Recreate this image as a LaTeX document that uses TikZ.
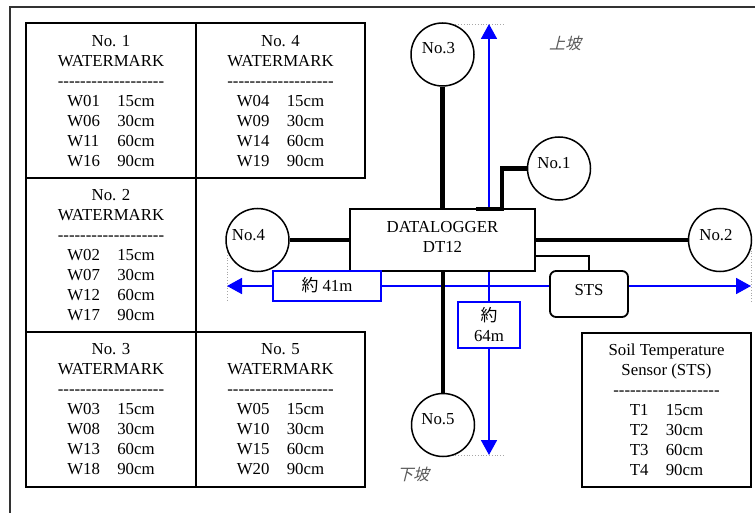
\documentclass[tikz,border=0pt]{standalone}
\usepackage{fontspec}
\setmainfont{Liberation Serif}
\newfontfamily\cjk{Noto Sans CJK JP}
\newfontfamily\cjkit[FakeSlant=0.25]{Noto Sans CJK JP}
\usetikzlibrary{arrows.meta}
\definecolor{pureblue}{RGB}{0,0,255}
\newcommand\dashrow{-{}-{}-{}-{}-{}-{}-{}-{}-{}-{}-{}-{}-{}-{}-{}-{}-{}-{}-{}}
\newcommand\wrow[2]{\makebox[50pt][l]{#1}#2}
\newcommand\trow[2]{\makebox[36pt][l]{#1}#2}
\newcommand\wmtext[5]{No. #1\\WATERMARK\\\dashrow\\\wrow{#2}{15cm}\\\wrow{#3}{30cm}\\\wrow{#4}{60cm}\\\wrow{#5}{90cm}}
\begin{document}
\begin{tikzpicture}[x=1pt,y=-1pt,
  every node/.style={font=\fontsize{16.8}{20}\selectfont, inner sep=0pt},
  cell/.style={draw, line width=1.3pt},
  sensor/.style={circle, draw, line width=1.5pt, minimum size=63pt, fill=white},
  cable/.style={line width=4.5pt},
  thincable/.style={line width=1.5pt},
  dim/.style={draw=pureblue, line width=1.8pt, -{Triangle[width=16pt,length=15pt]}},
  dimbox/.style={draw=pureblue, line width=2pt, fill=white},
  guide/.style={draw=gray!70, line width=0.8pt, dotted},
  slope/.style={font=\fontsize{16}{20}\selectfont\cjkit, text=black!65}]
\useasboundingbox (0,0) rectangle (755,513);
\fill[white] (0,0) rectangle (755,513);
% outer frame
\draw[line width=2pt, black!80] (10,513) -- (10,7.5) -- (755,7.5);
% watermark table
\draw[cell] (26,23) rectangle (196,178);
\draw[cell] (196,23) rectangle (365,178);
\draw[cell] (26,178) rectangle (196,332);
\draw[cell] (26,332) rectangle (196,487);
\draw[cell] (196,332) rectangle (365,487);
\node[align=center] (wm1) at (111,101) {\wmtext{1}{W01}{W06}{W11}{W16}};
\node[align=center] (wm4) at (280.5,101) {\wmtext{4}{W04}{W09}{W14}{W19}};
\node[align=center] (wm2) at (111,255) {\wmtext{2}{W02}{W07}{W12}{W17}};
\node[align=center] (wm3) at (111,409) {\wmtext{3}{W03}{W08}{W13}{W18}};
\node[align=center] (wm5) at (280.5,409) {\wmtext{5}{W05}{W10}{W15}{W20}};
% soil temperature sensor table
\draw[cell] (582,333) rectangle (751,487);
\node[align=center] (stt) at (666.5,410) {Soil Temperature\\Sensor (STS)\\\dashrow\\\trow{T1}{15cm}\\\trow{T2}{30cm}\\\trow{T3}{60cm}\\\trow{T4}{90cm}};
% guides
\coordinate (up) at (489,24);
\coordinate (down) at (489,455);
\coordinate (lft) at (227,286);
\coordinate (rgt) at (751,286);
\draw[guide] (447,24) -- (505,24);
\draw[guide] (447,455.5) -- (505,455.5);
\draw[guide] (227,238) -- (227,302);
\draw[guide] (751,245) -- (751,302);
% dimension arrows
\draw[dim, {Triangle[width=16pt,length=15pt]}-{Triangle[width=16pt,length=15pt]}] (down) -- (up);
\draw[dim, {Triangle[width=16pt,length=15pt]}-{Triangle[width=16pt,length=15pt]}] (lft) -- (rgt);
% datalogger and boxes
\node[draw, line width=2pt, fill=white, minimum width=185pt, minimum height=62pt] (dl) at (442.5,240) {};
\node[align=center] (dltext) at (442.5,237) {DATALOGGER\\DT12};
\node[draw, line width=1.8pt, fill=white, rounded corners=6pt, minimum width=78pt, minimum height=46pt] (sts) at (589,294) {};
\node (ststext) at (589,290) {STS};
\node[dimbox, minimum width=108pt, minimum height=30pt] (d41) at (327,286) {};
\node (d41t) at (327,285) {{\cjk 約}\ 41m};
\node[dimbox, minimum width=62pt, minimum height=46pt] (d64) at (489,325) {};
\node[align=center] (d64t) at (489,325) {{\cjk 約}\\64m};
% sensors
\node[sensor] (n3) at (442.5,54.5) {};
\node[sensor] (n1) at (559,168.5) {};
\node[sensor] (n2) at (720,240) {};
\node[sensor] (n4) at (257.5,240) {};
\node[sensor] (n5) at (443,425) {};
\node at ([shift={(-4,-6)}]n3.center) {No.3};
\node at ([shift={(-5,-5)}]n1.center) {No.1};
\node at ([shift={(-4,-5)}]n2.center) {No.2};
\node at ([shift={(-9,-5)}]n4.center) {No.4};
\node at ([shift={(-5,-6)}]n5.center) {No.5};
% cables
\draw[cable] (n3.south) -- (dl.north -| n3.south);
\draw[cable] (dl.south -| n5.north) -- (n5.north);
\draw[cable] (n4.east) -- (dl.west |- n4.east);
\draw[cable] (dl.east |- n2.west) -- (n2.west);
\draw[cable] (476,209) -- (502,209) -- (502,168.5) -- (n1.west);
\draw[thincable] (535,256) -| (sts.north);
% slope labels
\node[slope] (upslope) at (565,43) {上坡};
\node[slope] (downslope) at (413,474) {下坡};
\end{tikzpicture}
\end{document}
